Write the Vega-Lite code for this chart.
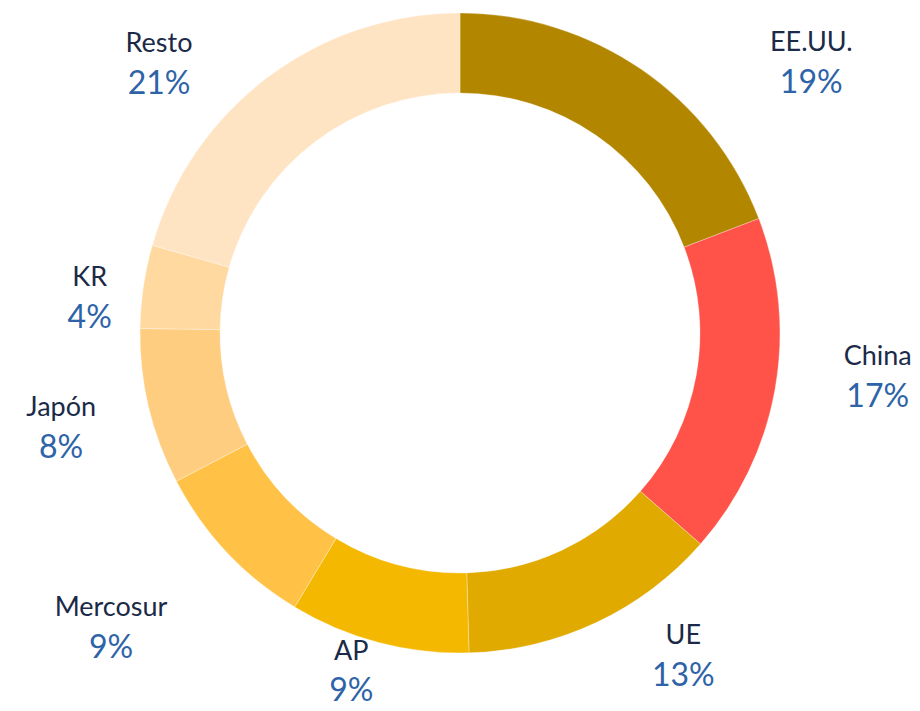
{
  "$schema": "https://vega.github.io/schema/vega-lite/v6.json",
  "width": 920,
  "height": 666,
  "autosize": {"type": "none"},
  "padding": {"left": 0, "right": 0, "top": 0, "bottom": 45},
  "background": "white",
  "config": {"view": {"stroke": null}, "text": {"font": "Lato"}},
  "data": {
    "values": [
      {"region": "EE.UU.", "valor": 0.192, "orden": 1},
      {"region": "China", "valor": 0.173, "orden": 2},
      {"region": "UE", "valor": 0.131, "orden": 3},
      {"region": "AP", "valor": 0.091, "orden": 4},
      {"region": "Mercosur", "valor": 0.087, "orden": 5},
      {"region": "Japón", "valor": 0.079, "orden": 6},
      {"region": "KR", "valor": 0.042, "orden": 7},
      {"region": "Resto", "valor": 0.206, "orden": 8}
    ]
  },
  "encoding": {
    "theta": {"field": "valor", "type": "quantitative", "stack": true},
    "order": {"field": "orden", "type": "quantitative"}
  },
  "layer": [
    {
      "mark": {"type": "arc", "outerRadius": 320, "innerRadius": 240, "stroke": "#ffffff", "strokeWidth": 0.3},
      "encoding": {
        "color": {
          "field": "region",
          "type": "nominal",
          "scale": {
            "domain": ["EE.UU.", "China", "UE", "AP", "Mercosur", "Japón", "KR", "Resto"],
            "range": ["#B38600", "#FF5349", "#E0AA00", "#F5B800", "#FFC247", "#FFCD80", "#FFD9A0", "#FFE4C4"]
          },
          "legend": null
        }
      }
    },
    {"mark": {"type": "text", "radius": 443, "thetaOffset": 0.313, "dy": -20, "fontSize": 27, "fill": "#1B2A47"},
     "encoding": {"detail": {"field": "region"}, "text": {"condition": {"test": "datum.region === 'EE.UU.'", "field": "region"}, "value": ""}}},
    {"mark": {"type": "text", "radius": 443, "thetaOffset": 0.313, "dy": 20, "fontSize": 32, "fill": "#2E63A8"},
     "encoding": {"detail": {"field": "region"}, "text": {"condition": {"test": "datum.region === 'EE.UU.'", "field": "valor", "type": "quantitative", "format": ".0%"}, "value": ""}}},

    {"mark": {"type": "text", "radius": 420, "thetaOffset": -0.073, "dy": -20, "fontSize": 27, "fill": "#1B2A47"},
     "encoding": {"detail": {"field": "region"}, "text": {"condition": {"test": "datum.region === 'China'", "field": "region"}, "value": ""}}},
    {"mark": {"type": "text", "radius": 420, "thetaOffset": -0.073, "dy": 20, "fontSize": 32, "fill": "#2E63A8"},
     "encoding": {"detail": {"field": "region"}, "text": {"condition": {"test": "datum.region === 'China'", "field": "valor", "type": "quantitative", "format": ".0%"}, "value": ""}}},

    {"mark": {"type": "text", "radius": 393, "thetaOffset": -0.165, "dy": -20, "fontSize": 27, "fill": "#1B2A47"},
     "encoding": {"detail": {"field": "region"}, "text": {"condition": {"test": "datum.region === 'UE'", "field": "region"}, "value": ""}}},
    {"mark": {"type": "text", "radius": 393, "thetaOffset": -0.165, "dy": 20, "fontSize": 32, "fill": "#2E63A8"},
     "encoding": {"detail": {"field": "region"}, "text": {"condition": {"test": "datum.region === 'UE'", "field": "valor", "type": "quantitative", "format": ".0%"}, "value": ""}}},

    {"mark": {"type": "text", "radius": 356, "thetaOffset": 0.053, "dy": -20, "fontSize": 27, "fill": "#1B2A47"},
     "encoding": {"detail": {"field": "region"}, "text": {"condition": {"test": "datum.region === 'AP'", "field": "region"}, "value": ""}}},
    {"mark": {"type": "text", "radius": 356, "thetaOffset": 0.053, "dy": 19, "fontSize": 32, "fill": "#2E63A8"},
     "encoding": {"detail": {"field": "region"}, "text": {"condition": {"test": "datum.region === 'AP'", "field": "valor", "type": "quantitative", "format": ".0%"}, "value": ""}}},

    {"mark": {"type": "text", "radius": 457, "thetaOffset": 0.053, "dy": -20, "fontSize": 27, "fill": "#1B2A47"},
     "encoding": {"detail": {"field": "region"}, "text": {"condition": {"test": "datum.region === 'Mercosur'", "field": "region"}, "value": ""}}},
    {"mark": {"type": "text", "radius": 457, "thetaOffset": 0.053, "dy": 20, "fontSize": 32, "fill": "#2E63A8"},
     "encoding": {"detail": {"field": "region"}, "text": {"condition": {"test": "datum.region === 'Mercosur'", "field": "valor", "type": "quantitative", "format": ".0%"}, "value": ""}}},

    {"mark": {"type": "text", "radius": 410, "thetaOffset": 0.0, "dy": -20, "fontSize": 27, "fill": "#1B2A47"},
     "encoding": {"detail": {"field": "region"}, "text": {"condition": {"test": "datum.region === 'Japón'", "field": "region"}, "value": ""}}},
    {"mark": {"type": "text", "radius": 410, "thetaOffset": 0.0, "dy": 20, "fontSize": 32, "fill": "#2E63A8"},
     "encoding": {"detail": {"field": "region"}, "text": {"condition": {"test": "datum.region === 'Japón'", "field": "valor", "type": "quantitative", "format": ".0%"}, "value": ""}}},

    {"mark": {"type": "text", "radius": 372, "thetaOffset": -0.051, "dy": -20, "fontSize": 27, "fill": "#1B2A47"},
     "encoding": {"detail": {"field": "region"}, "text": {"condition": {"test": "datum.region === 'KR'", "field": "region"}, "value": ""}}},
    {"mark": {"type": "text", "radius": 372, "thetaOffset": -0.051, "dy": 20, "fontSize": 32, "fill": "#2E63A8"},
     "encoding": {"detail": {"field": "region"}, "text": {"condition": {"test": "datum.region === 'KR'", "field": "valor", "type": "quantitative", "format": ".0%"}, "value": ""}}},

    {"mark": {"type": "text", "radius": 404, "thetaOffset": -0.194, "dy": -20, "fontSize": 27, "fill": "#1B2A47"},
     "encoding": {"detail": {"field": "region"}, "text": {"condition": {"test": "datum.region === 'Resto'", "field": "region"}, "value": ""}}},
    {"mark": {"type": "text", "radius": 404, "thetaOffset": -0.194, "dy": 20, "fontSize": 32, "fill": "#2E63A8"},
     "encoding": {"detail": {"field": "region"}, "text": {"condition": {"test": "datum.region === 'Resto'", "field": "valor", "type": "quantitative", "format": ".0%"}, "value": ""}}}
  ]
}
